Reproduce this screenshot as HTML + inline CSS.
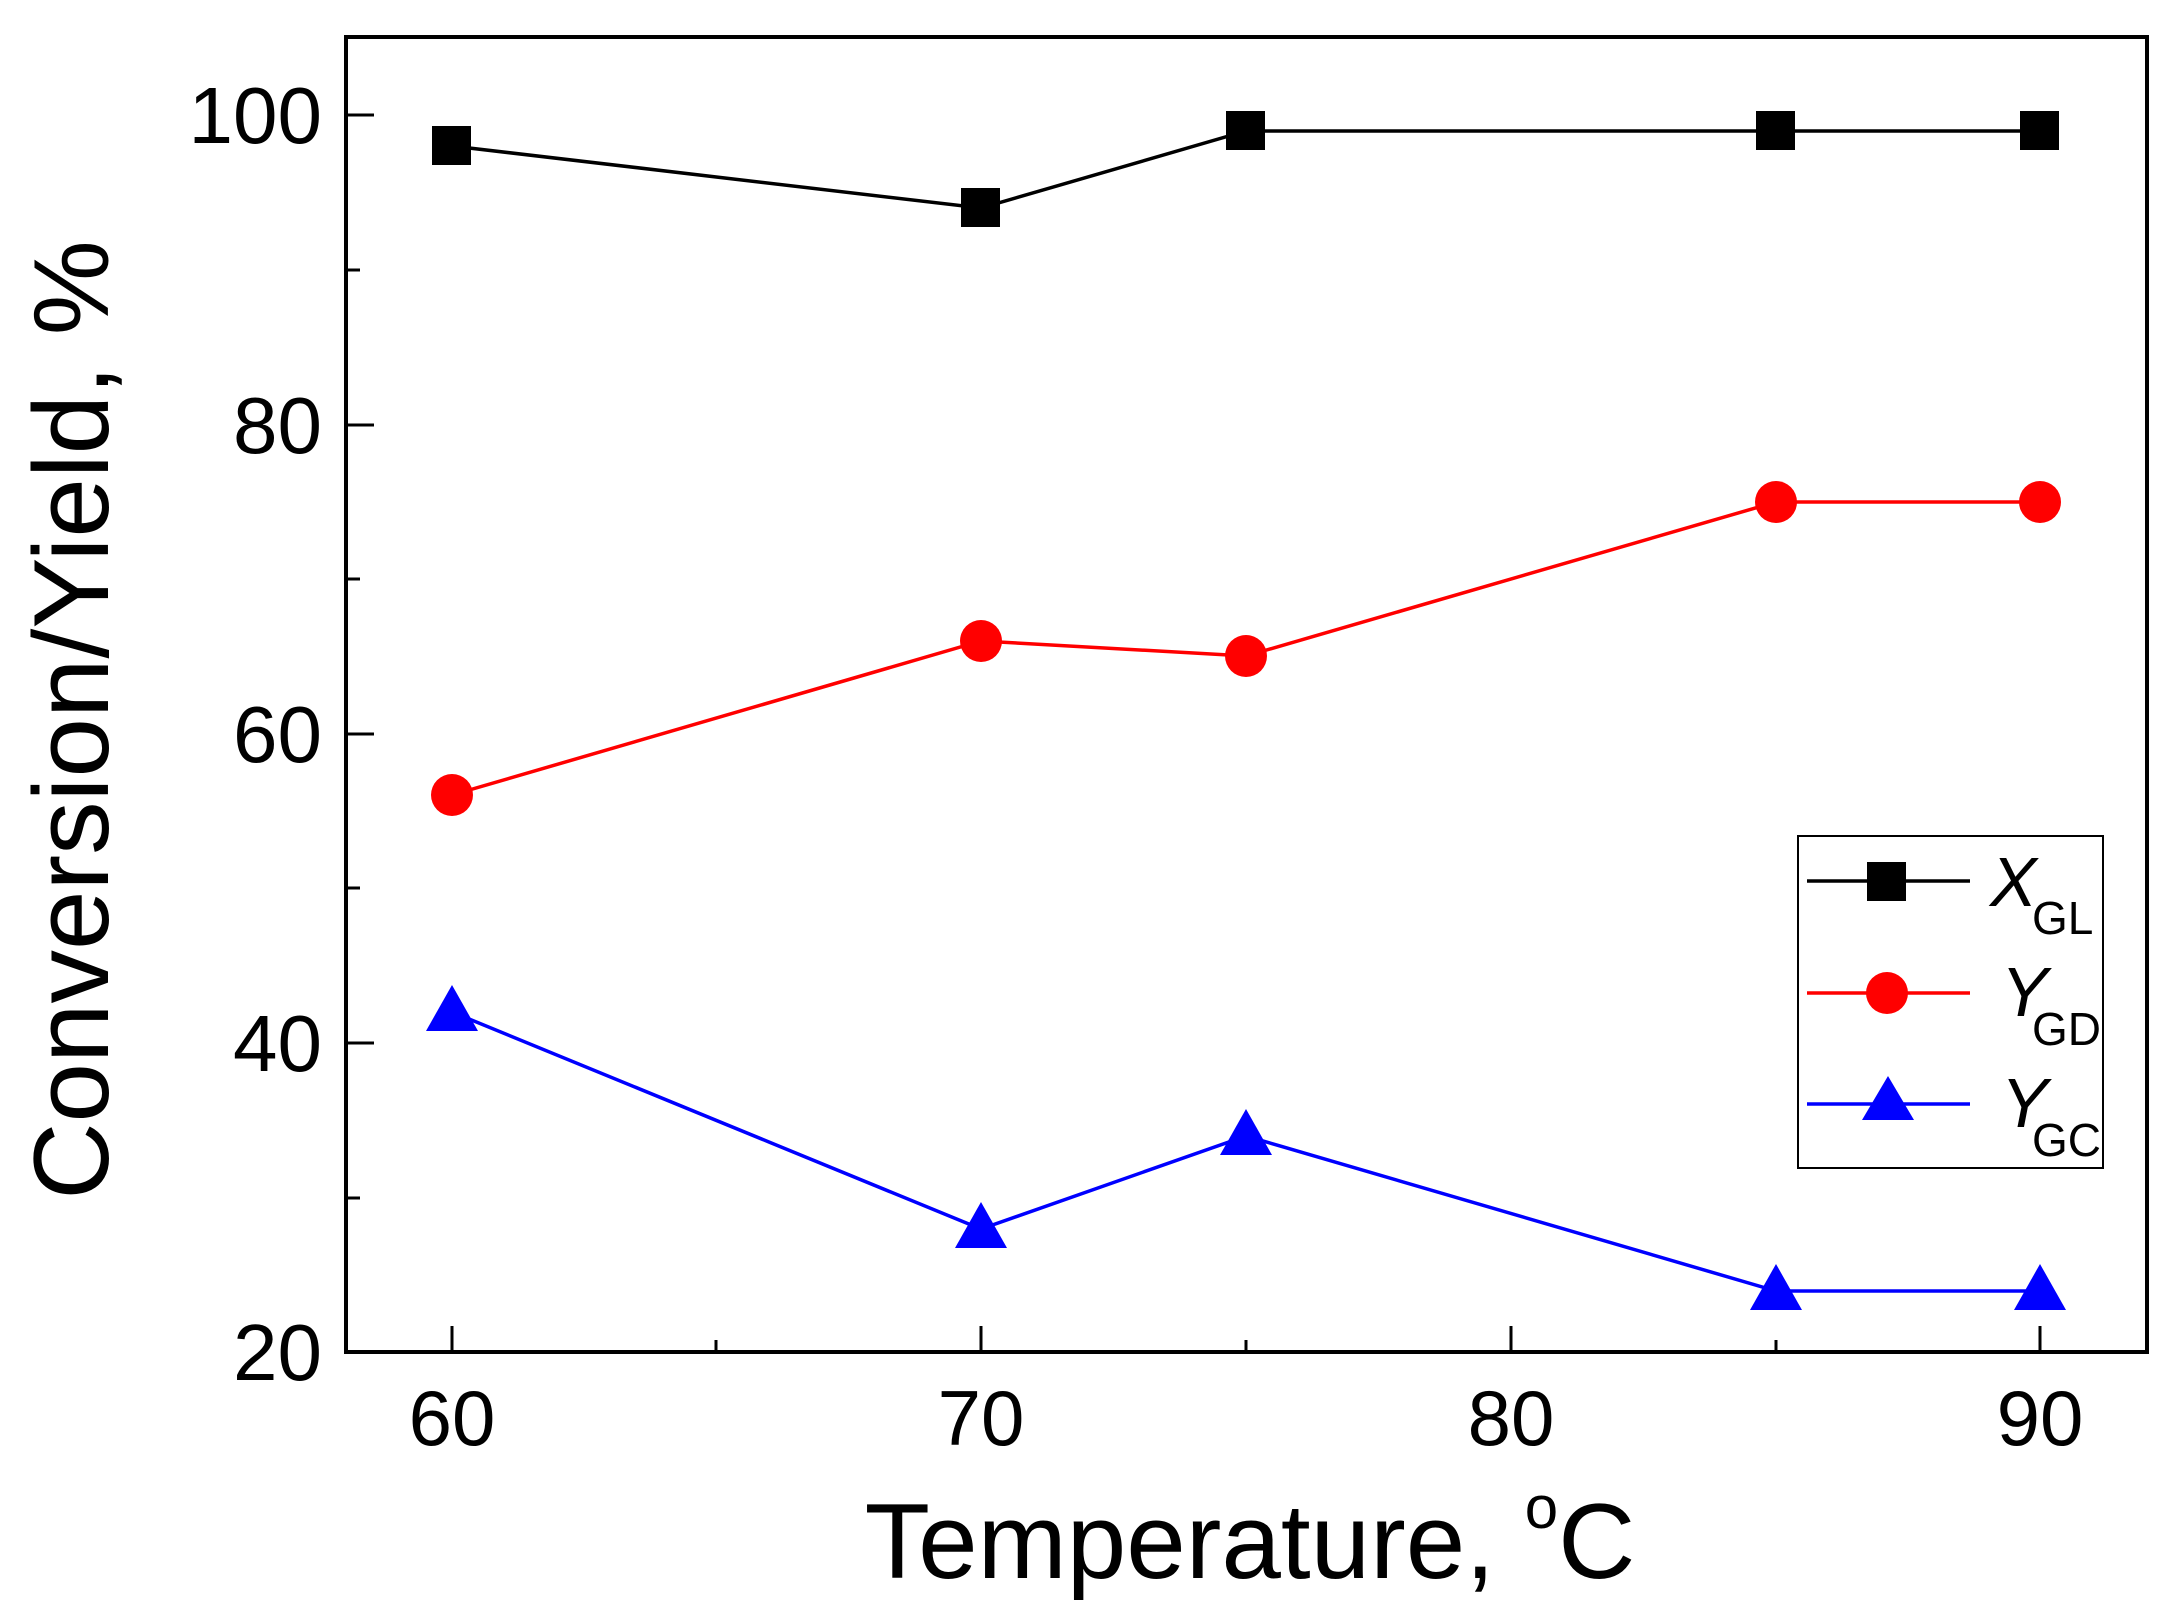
<!DOCTYPE html>
<html><head><style>body{margin:0;background:#fff}svg{display:block}</style></head><body>
<svg width="2184" height="1621" xmlns="http://www.w3.org/2000/svg" font-family="Liberation Sans, Arial, sans-serif">
<rect width="2184" height="1621" fill="#fff"/>
<rect x="346" y="37" width="1801" height="1315" fill="none" stroke="#000" stroke-width="4"/>
<g stroke="#000" stroke-width="3">
<line x1="452" y1="1352" x2="452" y2="1326"/><line x1="981" y1="1352" x2="981" y2="1326"/><line x1="1511" y1="1352" x2="1511" y2="1326"/><line x1="2040" y1="1352" x2="2040" y2="1326"/>
<line x1="716" y1="1352" x2="716" y2="1340"/><line x1="1246" y1="1352" x2="1246" y2="1340"/><line x1="1776" y1="1352" x2="1776" y2="1340"/>
<line x1="346" y1="1352" x2="374" y2="1352"/><line x1="346" y1="1043" x2="374" y2="1043"/><line x1="346" y1="734" x2="374" y2="734"/><line x1="346" y1="425" x2="374" y2="425"/><line x1="346" y1="115" x2="374" y2="115"/>
<line x1="346" y1="1198" x2="360" y2="1198"/><line x1="346" y1="888" x2="360" y2="888"/><line x1="346" y1="579" x2="360" y2="579"/><line x1="346" y1="270" x2="360" y2="270"/>
</g>
<g font-size="78" fill="#000" text-anchor="middle">
<text x="452" y="1445">60</text><text x="981" y="1445">70</text><text x="1511" y="1445">80</text><text x="2040" y="1445">90</text>
</g>
<g font-size="80" fill="#000" text-anchor="end">
<text x="322" y="1380">20</text><text x="322" y="1071">40</text><text x="322" y="762">60</text><text x="322" y="453">80</text><text x="322" y="143">100</text>
</g>
<text x="1250" y="1578" font-size="107" text-anchor="middle">Temperature, <tspan font-size="60" dy="-50">o</tspan><tspan dy="50">C</tspan></text>
<text transform="translate(108,720) rotate(-90)" font-size="107" text-anchor="middle">Conversion/Yield, %</text>
<polyline points="452,146 981,208 1246,131 1776,131 2040,131" fill="none" stroke="#000" stroke-width="3.5"/>
<polyline points="452,795 981,641 1246,656 1776,502 2040,502" fill="none" stroke="#f00" stroke-width="3.5"/>
<polyline points="452,1012 981,1229 1246,1136 1776,1291 2040,1291" fill="none" stroke="#00f" stroke-width="3.5"/>
<g fill="#000">
<rect x="432" y="126" width="39" height="39"/><rect x="961" y="188" width="39" height="39"/><rect x="1226" y="111" width="39" height="39"/><rect x="1756" y="111" width="39" height="39"/><rect x="2020" y="111" width="39" height="39"/>
</g>
<g fill="#f00">
<circle cx="452" cy="795" r="21"/><circle cx="981" cy="641" r="21"/><circle cx="1246" cy="656" r="21"/><circle cx="1776" cy="502" r="21"/><circle cx="2040" cy="502" r="21"/>
</g>
<g fill="#00f">
<polygon points="452,985 426,1031 478,1031"/><polygon points="981,1202 955,1248 1007,1248"/><polygon points="1246,1109 1220,1155 1272,1155"/><polygon points="1776,1264 1750,1310 1802,1310"/><polygon points="2040,1264 2014,1310 2066,1310"/>
</g>
<rect x="1798" y="836" width="305" height="332" fill="#fff" stroke="#000" stroke-width="2"/>
<line x1="1807" y1="881" x2="1970" y2="881" stroke="#000" stroke-width="3.5"/>
<rect x="1867" y="862" width="39" height="39" fill="#000"/>
<line x1="1807" y1="993" x2="1970" y2="993" stroke="#f00" stroke-width="3.5"/>
<circle cx="1887" cy="993" r="21" fill="#f00"/>
<line x1="1807" y1="1104" x2="1970" y2="1104" stroke="#00f" stroke-width="3.5"/>
<polygon points="1888,1076 1862,1120 1914,1120" fill="#00f"/>
<g font-size="70" font-style="italic" fill="#000">
<text x="1990" y="906">X</text><text x="2001" y="1016">Y</text><text x="2001" y="1127">Y</text>
</g>
<g font-size="46" fill="#000">
<text x="2032" y="934">GL</text><text x="2032" y="1045">GD</text><text x="2032" y="1156">GC</text>
</g>
</svg>
</body></html>
